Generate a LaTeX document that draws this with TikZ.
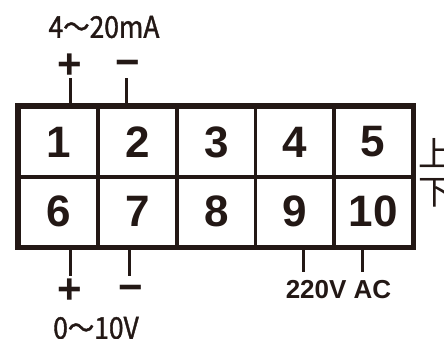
\documentclass[tikz,border=0pt]{standalone}
\usepackage{fontspec}
\setmainfont{Liberation Sans}
\newfontfamily\cjk{Noto Sans CJK SC}
\newfontfamily\cjknarrow[FakeStretch=0.88,FakeBold=1.2]{Noto Sans CJK SC}
\definecolor{ink}{HTML}{231815}
\begin{document}
\begin{tikzpicture}[x=1bp,y=-1bp,
  cell/.style={draw=ink,line width=3bp,minimum width=78.6bp,minimum height=70bp,inner sep=0pt,
    text=ink,font=\fontsize{44bp}{44bp}\selectfont\bfseries},
  lead/.style={draw=ink,line width=3bp},
  sign/.style={text=ink,inner sep=0pt,font=\fontsize{42bp}{42bp}\selectfont\bfseries},
  lbl/.style={text=ink,inner sep=0pt,font=\fontsize{30bp}{30bp}\selectfont\cjknarrow},
  side/.style={text=ink,inner sep=0pt,anchor=west,font=\fontsize{34bp}{34bp}\selectfont\cjk},
  acl/.style={text=ink,inner sep=0pt,font=\fontsize{26bp}{26bp}\selectfont\bfseries}]
\useasboundingbox[fill=white] (0,0) rectangle (444,338);
% cells
\foreach \i/\x in {1/58.5,2/137.5,3/216.5,4/295,5/373}{
  \node[cell] (c\i) at (\x,142) {\i};
}
\foreach \i/\x in {6/58.5,7/137.5,8/216.5,9/295,10/373}{
  \node[cell] (c\i) at (\x,211.5) {\i};
}
\draw[ink,line width=4.5bp] (c1.north west) rectangle (c10.south east);
% top leads
\node[lbl] (top) at (104,27) {4～20mA};
\node[sign] (p1) at (70,66) {+};
\node[sign] (m2) at (128,68) {−};
\coordinate (l1) at (70,78);
\coordinate (l2) at (126,78);
\draw[lead] (l1) -- (l1 |- c1.north);
\draw[lead] (l2) -- (l2 |- c2.north);
% bottom leads
\coordinate (l6) at (70,276);
\coordinate (l7) at (129,276);
\coordinate (l9) at (303,272);
\coordinate (l10) at (362,272);
\draw[lead] (l6 |- c6.south) -- (l6);
\draw[lead] (l7 |- c7.south) -- (l7);
\draw[lead] (l9 |- c9.south) -- (l9);
\draw[lead] (l10 |- c10.south) -- (l10);
\node[sign] (p6) at (70,291) {+};
\node[sign] (m7) at (131,293) {−};
\node[acl] (ac) at (338.5,289.5) {220V AC};
\node[lbl] (bot) at (96,328) {0～10V};
% side labels
\node[side] (up) at (418,153) {上};
\node[side] (dn) at (418,193) {下};
\end{tikzpicture}
\end{document}
